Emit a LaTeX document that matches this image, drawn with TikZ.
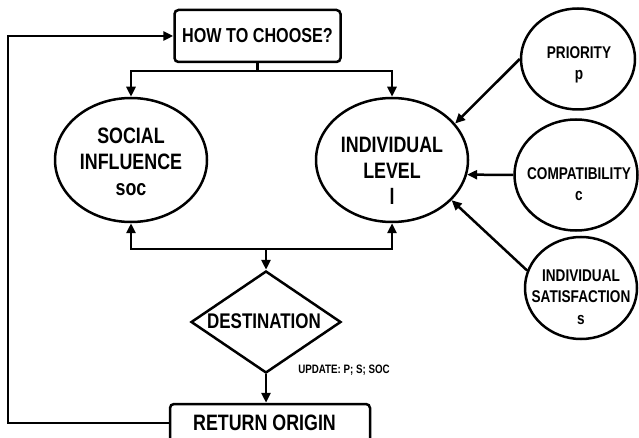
\documentclass[tikz,border=0pt]{standalone}
\usepackage{fontspec}
\setmainfont{Liberation Sans}[FakeStretch=0.8]
\usetikzlibrary{shapes.geometric,arrows.meta}
\begin{document}
\begin{tikzpicture}[x=1pt,y=-1pt, line width=2.5pt,
  >={Triangle[length=10pt,width=9pt]},
  ell/.style={draw,ellipse,inner sep=0pt},
  txt/.style={align=center,font=\bfseries\fontsize{22.3}{26}\selectfont,inner sep=0pt},
  stxt/.style={align=center,font=\bfseries\fontsize{17}{21.5}\selectfont,inner sep=0pt},
  rbox/.style={draw,rounded corners=4pt,inner sep=0pt},
]
\clip (0,0) rectangle (639,438);
\fill[white] (0,0) rectangle (639,438);

\node[rbox, minimum width=166pt, minimum height=52pt, font=\bfseries\fontsize{20.2}{23}\selectfont] (how) at (257.5,36) {HOW TO CHOOSE?};

\node[ell, minimum width=152pt, minimum height=124pt] (soc) at (131,160) {};
\node[txt] (soct) at (131,162) {SOCIAL\\INFLUENCE\\soc};
\node[ell, minimum width=152pt, minimum height=124pt] (ind) at (392,160) {};
\node[txt] (indt) at (392,171) {INDIVIDUAL\\LEVEL\\l};

\node[ell, minimum width=114pt, minimum height=101pt] (pri) at (578,59) {};
\node[stxt] (prit) at (579,65) {PRIORITY\\p};
\node[ell, minimum width=123pt, minimum height=111pt] (com) at (576,175) {};
\node[stxt] (comt) at (579,184) {COMPATIBILITY\\c};
\node[ell, minimum width=112pt, minimum height=102pt] (sat) at (581,288) {};
\node[stxt] (satt) at (581,297) {INDIVIDUAL\\SATISFACTION\\s};

\node[draw, diamond, minimum width=150pt, minimum height=102pt, inner sep=0pt] (dest) at (266,322) {};
\node[txt, font=\bfseries\fontsize{21.2}{24}\selectfont] (destt) at (264,321) {DESTINATION};

\node[rbox, minimum width=200pt, minimum height=60pt] (ret) at (270,434) {};
\node[txt] (rett) at (264.5,423) {RETURN ORIGIN};

\node[font=\bfseries\fontsize{12.2}{14}\selectfont, inner sep=0pt] (upd) at (344,370) {UPDATE: P; S; SOC};

% top branch
\coordinate (j1) at (257.5,71);
\draw (how.south) -- (j1);
\draw[->] (j1) -| (soc.north);
\draw[->] (j1) -| (ind.north);

% bottom branch
\coordinate (j2) at (266,249);
\draw[->] (j2) -| (soc.south);
\draw[->] (j2) -| (ind.south);
\draw[->] (j2) -- (dest.north);

\draw[->] (dest.south) -- (dest.south |- ret.north);

% loop back
\coordinate (lp) at (8,36);
\draw[->] (rett.west -| ret.west) -- (rett.west -| lp) |- (how.west);

% side inputs
\draw[->] (pri.west) -- (ind.30);
\draw[->] (com.west) -- (ind.-11.5);
\draw[->] (sat.162) -- (ind.-34);
\end{tikzpicture}
\end{document}
